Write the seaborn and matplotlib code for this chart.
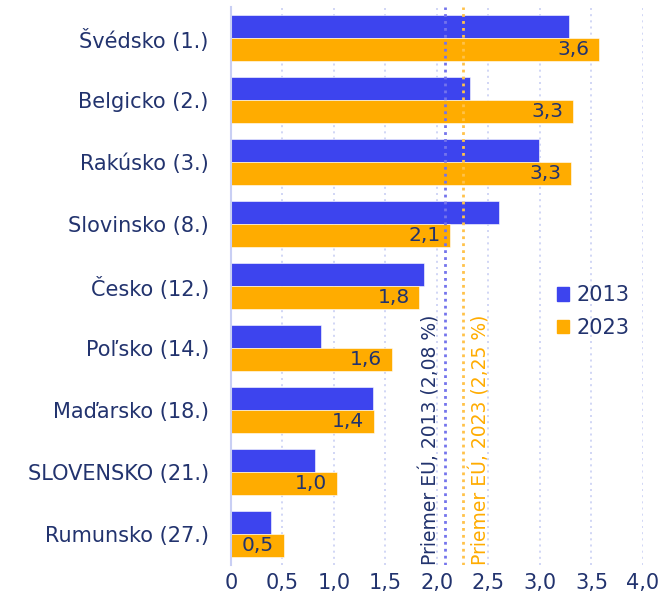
import numpy as np
import pandas as pd
import seaborn as sns
import matplotlib.pyplot as plt
from matplotlib.patches import Patch

sns.set_theme(style="white")
plt.rcParams['font.family'] = ['DejaVu Sans']

countries = ["Švédsko (1.)", "Belgicko (2.)", "Rakúsko (3.)", "Slovinsko (8.)", "Česko (12.)",
             "Poľsko (14.)", "Maďarsko (18.)", "SLOVENSKO (21.)", "Rumunsko (27.)"]
val_2013 = [3.28, 2.32, 2.99, 2.60, 1.87, 0.87, 1.38, 0.82, 0.39]
val_2023 = [3.57, 3.32, 3.30, 2.13, 1.83, 1.56, 1.39, 1.03, 0.51]
years = ["2013", "2023"]
eu_avg = [2.08, 2.25]
xticks = [0, 0.5, 1.0, 1.5, 2.0, 2.5, 3.0, 3.5, 4.0]

navy = "#22336E"
blue = "#3D44EE"
orange = "#FFAC00"
grid_c = "#C9CFF4"

df = pd.DataFrame({
    "country": countries * 2,
    "year": [years[0]] * len(countries) + [years[1]] * len(countries),
    "value": val_2013 + val_2023,
})

fig = plt.figure(figsize=(6.63, 6.05), dpi=100)
ax = fig.add_axes([0.3484, 0.066, 0.6214, 0.922])

for x in xticks[1:]:
    ax.axvline(x, color=grid_c, linestyle=(0, (1.2, 2.5)), linewidth=1.2, zorder=0)

sns.barplot(data=df, y="country", x="value", hue="year", orient="h",
            palette=[blue, orange], saturation=1, width=0.74, ax=ax, legend=False,
            edgecolor="white", linewidth=0.4, zorder=2)

labels = ax.bar_label(ax.containers[1], labels=[f"{v:.1f}".replace(".", ",") for v in val_2023],
                      padding=-7, color=navy, fontsize=14.5, label_type="edge")
for t in labels:
    t.set_ha("right")

ax.axvline(eu_avg[0], color="#7474EC", linestyle=(0, (1, 1.5)), linewidth=2, zorder=3)
ax.axvline(eu_avg[1], color="#FFC24A", linestyle=(0, (1, 1.5)), linewidth=2, zorder=3)
ax.text(eu_avg[0] - 0.05, 8.5, "Priemer EÚ, 2013 (2,08 %)", rotation=90, color=navy,
        fontsize=13.5, ha="right", va="bottom", zorder=4)
ax.text(eu_avg[1] + 0.07, 8.5, "Priemer EÚ, 2023 (2,25 %)", rotation=90, color=orange,
        fontsize=13.5, ha="left", va="bottom", zorder=4)

ax.set_xlim(0, 4.0)
ax.set_ylim(8.5, -0.5)
ax.set_xticks(xticks)
ax.set_xticklabels([("0" if t == 0 else f"{t:.1f}".replace(".", ",")) for t in xticks])
ax.set_xlabel("")
ax.set_ylabel("")
ax.tick_params(axis="both", length=0, labelsize=15, labelcolor=navy)
ax.tick_params(axis="y", pad=16)
ax.tick_params(axis="x", pad=6)
for s in ["top", "right", "bottom"]:
    ax.spines[s].set_visible(False)
ax.spines["left"].set_color(grid_c)
ax.spines["left"].set_linewidth(1.5)

handles = [Patch(color=blue, label=years[0]), Patch(color=orange, label=years[1])]
leg = ax.legend(handles=handles, loc="upper left", bbox_to_anchor=(0.745, 0.535), frameon=False,
                fontsize=15, handlelength=0.6, handleheight=0.6, handletextpad=0.35,
                labelspacing=0.6, labelcolor=navy)

fig.savefig("out.png", dpi=100)
